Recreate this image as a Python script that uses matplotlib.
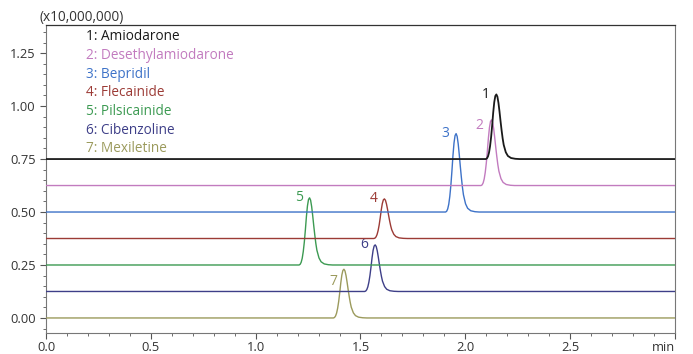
import numpy as np
import matplotlib.pyplot as plt
from matplotlib.ticker import MultipleLocator
plt.switch_backend('agg')

# compounds, in legend order
names = ["Amiodarone", "Desethylamiodarone", "Bepridil", "Flecainide",
         "Pilsicainide", "Cibenzoline", "Mexiletine"]
colors = ["#1a1a1a", "#c27bbf", "#3d72c8", "#9c3b36", "#3c9a52", "#3e3f88", "#9b9a5c"]
offsets = [0.75, 0.625, 0.5, 0.375, 0.25, 0.125, 0.0]   # baseline of each trace (x10,000,000)
rt = [2.148, 2.125, 1.956, 1.614, 1.257, 1.570, 1.421]   # retention time, min
height = [0.305, 0.31, 0.37, 0.187, 0.317, 0.22, 0.23]   # peak height above baseline

# shared peak shape: time from apex (min), relative intensity
prof_t = [-0.050, -0.045, -0.040, -0.035, -0.030, -0.025, -0.020, -0.015, -0.010, -0.005,
          0.000, 0.005, 0.010, 0.015, 0.020, 0.025, 0.030, 0.035, 0.045, 0.055, 0.070, 0.090, 0.110]
prof_y = [0.000, 0.010, 0.040, 0.100, 0.200, 0.340, 0.520, 0.720, 0.880, 0.975,
          1.000, 0.965, 0.870, 0.735, 0.585, 0.445, 0.320, 0.220, 0.105, 0.048, 0.016, 0.004, 0.000]

x_ticks = [0.0, 0.5, 1.0, 1.5, 2.0, 2.5, 3.0]
x_labels = ["0.0", "0.5", "1.0", "1.5", "2.0", "2.5", "min"]
y_ticks = [0.0, 0.25, 0.5, 0.75, 1.0, 1.25]

plt.rcParams['font.family'] = ['Open Sans', 'DejaVu Sans']

fig = plt.figure(figsize=(6.93, 3.54), dpi=100)
ax = fig.add_axes([0.0664, 0.0593, 0.9076, 0.8697])

# a couple of peak numbers sit lower than their apex in the original
label_shift = {1: (-6, -4), 6: (-5, -9)}

pt = np.array(prof_t)
py = np.array(prof_y)
for i in range(len(names)):
    x = np.concatenate([[0.0], rt[i] + pt, [3.0]])
    y = np.concatenate([[0.0], height[i] * py, [0.0]]) + offsets[i]
    lw = 1.3 if i == 0 else 1.0
    ax.plot(x, y, color=colors[i], lw=lw, zorder=10 - i)
    ax.annotate(str(i + 1), (rt[i], offsets[i] + height[i]),
                xytext=label_shift.get(i, (-5, 0)),
                textcoords='offset points', ha='right', va='center',
                color=colors[i], fontsize=10)
    fig.text(86 / 693, 1 - (37 + i * 18.6) / 354, "%d: %s" % (i + 1, names[i]),
             color=colors[i], fontsize=9.8, va='center', ha='left')

ax.set_xlim(0, 3.0)
ax.set_ylim(-0.071, 1.382)
ax.set_xticks(x_ticks)
ax.set_xticklabels(x_labels)
ax.get_xticklabels()[-1].set_ha('right')
ax.set_yticks(y_ticks)
ax.set_yticklabels(["%.2f" % v for v in y_ticks])
ax.xaxis.set_minor_locator(MultipleLocator(0.1))
ax.yaxis.set_minor_locator(MultipleLocator(0.05))
ax.tick_params(which='both', direction='out', color='#555555', labelsize=9.3,
               labelcolor='#333333')
ax.tick_params(which='major', length=4, width=0.8)
ax.tick_params(which='minor', length=2.5, width=0.6)
ax.tick_params(axis='x', pad=2)
for s in ['left', 'right', 'bottom']:
    ax.spines[s].set_color('#777777')
    ax.spines[s].set_linewidth(0.8)
ax.spines['top'].set_color('#333333')
ax.spines['top'].set_linewidth(0.9)

fig.text(40 / 693, 1 - 17 / 354, "(x10,000,000)", fontsize=9.8, color='#333333',
         ha='left', va='center')

plt.savefig('out.png', dpi=100)
